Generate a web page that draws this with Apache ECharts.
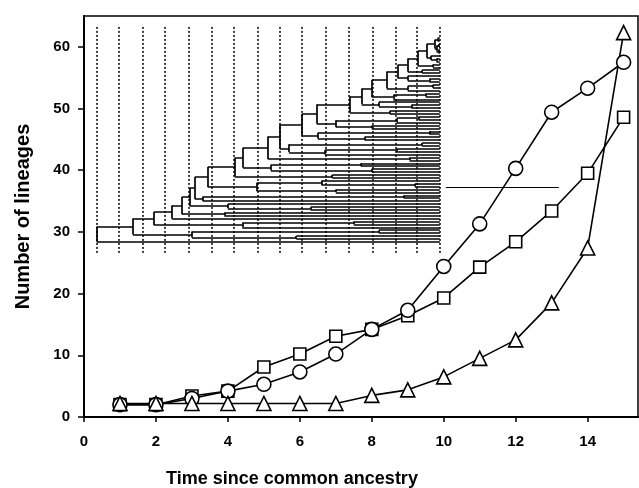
<!DOCTYPE html>
<html>
<head>
<meta charset="utf-8">
<title>Number of lineages</title>
<script src="https://cdn.jsdelivr.net/npm/echarts@6/dist/echarts.min.js"></script>
<style>
  html, body { margin: 0; padding: 0; background: #fff; }
  #chart { width: 639px; height: 488px; }
</style>
</head>
<body>
<div id="chart"></div>
<script>
// lineage counts
const timePoints = [1, 2, 3, 4, 5, 6, 7, 8, 9, 10, 11, 12, 13, 14, 15];
const circleLineages = [2, 2, 3, 4.2, 5.3, 7.3, 10.2, 14.2, 17.3, 24.4, 31.3, 40.3, 49.4, 53.3, 57.5];
const squareLineages = [2, 2, 3.4, 4.2, 8.1, 10.2, 13.1, 14.2, 16.4, 19.3, 24.3, 28.4, 33.4, 39.5, 48.6];
const triangleLineages = [2.2, 2.2, 2.2, 2.2, 2.2, 2.2, 2.2, 3.5, 4.4, 6.5, 9.5, 12.5, 18.5, 27.4, 62.3];

const xTicks = [0, 2, 4, 6, 8, 10, 12, 14];
const yTicks = [0, 10, 20, 30, 40, 50, 60];

// inset tree (drawn in the same axes): time slices and coalescence times
const sliceTimes = [0.36, 0.97, 1.64, 2.25, 2.92, 3.56, 4.17, 4.83, 5.44, 6.06, 6.72, 7.36, 8.03, 8.67, 9.25, 9.89];
const sliceSpan = [26.6, 63.5];
const tipSpan = [28.4, 61.4];
// time of the common ancestor of each pair of neighbouring tips, bottom to top
const mergeTimes = [
  0.36,
  5.9, 3.0, 8.2, 1.36,
  4.4, 7.5, 1.94,
  2.44,
  3.9, 2.72,
  6.3, 4.0, 2.95,
  3.3, 8.9, 3.08,
  7.0, 4.8, 9.2, 6.6, 3.44,
  6.9, 4.19,
  8.0, 5.2, 7.7, 4.42,
  9.05, 5.11,
  6.7, 8.7, 5.7, 9.4, 5.44,
  7.8, 6.5, 9.6, 6.06,
  8.0, 7.0, 8.7, 9.3, 6.47,
  8.5, 7.39,
  9.1, 8.2, 7.72,
  8.6, 9.5, 8.0,
  9.0, 9.7, 8.42,
  9.6, 9.0, 8.72,
  9.4, 9.0,
  9.7, 9.28,
  9.8, 9.65, 9.53,
  9.85, 9.8, 9.87, 9.75,
  9.83
];
// the lone stroke right of the tree
const strayLineX = [10.06, 13.2];
const strayLineY = 37.3;

const font = '"Liberation Sans", Arial, Helvetica, sans-serif';
const tipTime = sliceTimes[sliceTimes.length - 1];
const tipCount = mergeTimes.length + 1;
const tipStep = (tipSpan[1] - tipSpan[0]) / (tipCount - 1);

// rectangular cladogram: split each tip range at its oldest merge
const branchSegments = [];
function layoutTree(a, b) {
  if (a === b) return { x: tipTime, y: tipSpan[0] + a * tipStep };
  let k = a;
  for (let i = a; i < b; i++) {
    if (mergeTimes[i] < mergeTimes[k]) k = i;
  }
  const lower = layoutTree(a, k);
  const upper = layoutTree(k + 1, b);
  const t = mergeTimes[k];
  branchSegments.push({ coords: [[t, lower.y], [t, upper.y]] });
  branchSegments.push({ coords: [[t, lower.y], [lower.x, lower.y]] });
  branchSegments.push({ coords: [[t, upper.y], [upper.x, upper.y]] });
  return { x: t, y: (lower.y + upper.y) / 2 };
}
layoutTree(0, tipCount - 1);

const sliceSegments = sliceTimes.map(t => ({ coords: [[t, sliceSpan[0]], [t, sliceSpan[1]]] }));

function lineageSeries(values, symbol, size) {
  return {
    type: 'line',
    data: timePoints.map((t, i) => [t, values[i]]),
    symbol: symbol,
    symbolSize: size,
    showAllSymbol: true,
    lineStyle: { color: '#000', width: 1.6 },
    itemStyle: { color: '#fff', borderColor: '#000', borderWidth: 1.6 },
    emphasis: { disabled: true },
    z: 5
  };
}

const chart = echarts.init(document.getElementById('chart'), null, { renderer: 'canvas' });
chart.setOption({
  animation: false,
  backgroundColor: '#fff',
  grid: {
    left: 84, right: 1, top: 16, bottom: 71,
    outerBoundsMode: 'none',
    show: true, borderColor: '#000', borderWidth: 1.5
  },
  xAxis: {
    type: 'value',
    min: 0,
    max: 15.4,
    name: 'Time since common ancestry',
    nameLocation: 'middle',
    nameGap: 53,
    nameTextStyle: {
      fontFamily: font, fontWeight: 'bold', fontSize: 18, color: '#000',
      padding: [0, 138, 0, 0]
    },
    axisLine: { lineStyle: { color: '#000', width: 2 } },
    axisTick: { customValues: xTicks, length: 5, lineStyle: { color: '#000', width: 1.5 } },
    axisLabel: {
      customValues: xTicks, margin: 17,
      fontFamily: font, fontWeight: 'bold', fontSize: 15, color: '#000'
    },
    splitLine: { show: false }
  },
  yAxis: {
    type: 'value',
    min: 0,
    max: 65,
    name: 'Number of lineages',
    nameLocation: 'middle',
    nameGap: 51,
    nameTextStyle: { fontFamily: font, fontWeight: 'bold', fontSize: 20, color: '#000' },
    axisLine: { lineStyle: { color: '#000', width: 2 } },
    axisTick: { customValues: yTicks, length: 6, lineStyle: { color: '#000', width: 1.5 } },
    axisLabel: {
      customValues: yTicks, margin: 14,
      fontFamily: font, fontWeight: 'bold', fontSize: 15, color: '#000'
    },
    splitLine: { show: false }
  },
  series: [
    {
      type: 'lines',
      coordinateSystem: 'cartesian2d',
      data: sliceSegments,
      lineStyle: { color: '#000', width: 1.5, type: [2, 2], opacity: 1 },
      silent: true,
      z: 2
    },
    {
      type: 'lines',
      coordinateSystem: 'cartesian2d',
      data: branchSegments,
      lineStyle: { color: '#000', width: 1.7, opacity: 1 },
      silent: true,
      z: 3
    },
    {
      type: 'lines',
      coordinateSystem: 'cartesian2d',
      data: [{ coords: [[strayLineX[0], strayLineY], [strayLineX[1], strayLineY]] }],
      lineStyle: { color: '#000', width: 1, opacity: 1 },
      silent: true,
      z: 3
    },
    lineageSeries(squareLineages, 'rect', 12),
    lineageSeries(circleLineages, 'circle', 14),
    lineageSeries(triangleLineages, 'triangle', 14)
  ]
});
</script>
</body>
</html>
